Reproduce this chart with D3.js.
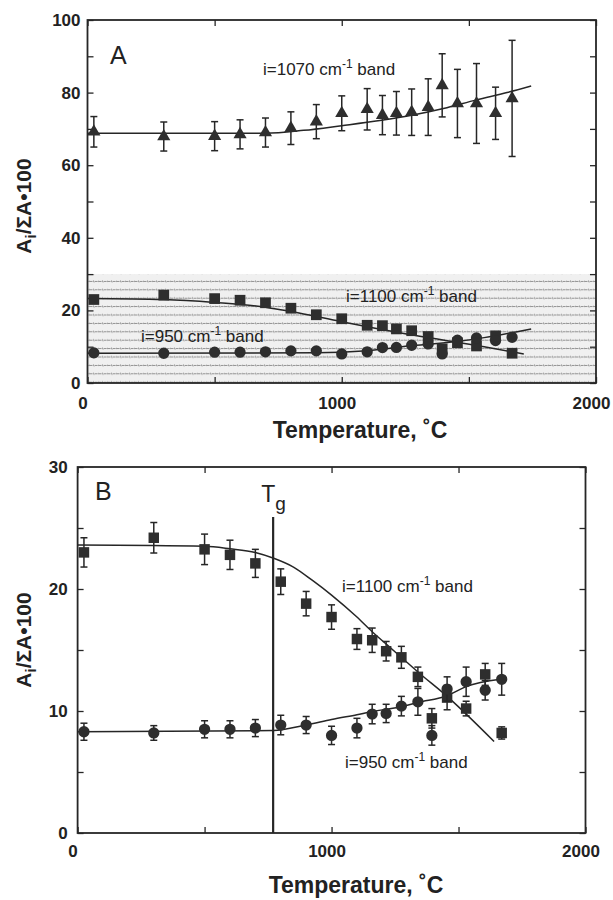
<!DOCTYPE html>
<html>
<head>
<meta charset="utf-8">
<script src="https://cdn.jsdelivr.net/npm/d3@7"></script>
<style>
  body { margin: 0; background: #fff; }
  svg { display: block; }
  text { font-family: "Liberation Sans", Arial, Helvetica, sans-serif; fill: #222; }
</style>
</head>
<body>
<script>
// temperatures (deg C) of the measured points
var tempC = [25, 300, 500, 600, 700, 800, 900, 1000, 1100, 1160, 1215, 1275, 1340, 1395, 1455, 1530, 1605, 1670];

// i = 1070 cm-1 band (triangles, panel A only)
var band1070 = [69.2, 67.9, 68.0, 68.5, 69.0, 70.2, 72.0, 74.3, 75.4, 73.8, 74.3, 74.6, 76.0, 82.0, 77.0, 77.0, 74.3, 78.4];
var err1070 = [4.2, 4.0, 4.0, 4.0, 4.0, 4.5, 4.7, 4.8, 5.7, 5.4, 6.0, 6.4, 7.8, 8.7, 9.4, 11.0, 7.2, 16.0];

// i = 1100 cm-1 band (squares)
var band1100 = [23.0, 24.2, 23.25, 22.8, 22.1, 20.6, 18.8, 17.7, 15.9, 15.8, 14.9, 14.4, 12.8, 9.4, 11.1, 10.2, 13.0, 8.2];
var err1100 = [1.2, 1.25, 1.25, 1.2, 1.15, 1.05, 1.0, 1.0, 0.85, 1.0, 0.8, 0.9, 0.8, 0.8, 1.0, 0.6, 0.9, 0.5];

// i = 950 cm-1 band (circles)
var band950 = [8.3, 8.2, 8.5, 8.5, 8.6, 8.85, 8.85, 8.0, 8.6, 9.75, 9.8, 10.4, 10.75, 8.0, 11.8, 12.4, 11.7, 12.6];
var err950 = [0.7, 0.6, 0.7, 0.7, 0.7, 0.8, 0.7, 0.75, 0.8, 0.8, 0.75, 0.8, 1.1, 0.8, 1.0, 1.2, 0.8, 1.3];

// fitted curves
var fitA1070T = [0, 700, 850, 1000, 1150, 1280, 1400, 1530, 1650, 1745];
var fitA1070V = [68.8, 68.8, 69.6, 70.9, 72.3, 73.8, 75.6, 78.0, 80.0, 81.8];
var fitA1100T = [0, 300, 500, 700, 800, 1000, 1280, 1560, 1716];
var fitA1100V = [23.3, 23.0, 22.2, 20.9, 19.7, 16.9, 13.2, 10.0, 8.0];
var fitA950T = [0, 900, 1100, 1280, 1460, 1560, 1745];
var fitA950V = [8.2, 8.3, 8.9, 10.3, 11.5, 12.5, 14.9];

var fitB1100T = [0, 500, 600, 700, 775, 850, 925, 1000, 1100, 1160, 1220, 1280, 1340, 1455, 1640];
var fitB1100V = [23.6, 23.5, 23.3, 23.0, 22.5, 21.8, 20.7, 19.5, 17.7, 16.5, 15.4, 14.3, 13.2, 11.2, 7.5];
var fitB950T = [0, 770, 900, 1000, 1100, 1160, 1275, 1340, 1455, 1530, 1665];
var fitB950V = [8.3, 8.4, 8.85, 9.3, 9.7, 9.95, 10.35, 10.7, 11.25, 12.0, 12.6];

// shaded band in panel A (y range) and glass transition temperature
var shadedBand = [0, 30];
var tgTemp = 770;

// tick values
var xTicks = [0, 500, 1000, 1500, 2000];
var xLabels = [0, 1000, 2000];
var yTicksA = [0, 10, 20, 30, 40, 50, 60, 70, 80, 90, 100];
var yLabelsA = [0, 20, 40, 60, 80, 100];
var yTicksB = [0, 5, 10, 15, 20, 25, 30];
var yLabelsB = [0, 10, 20, 30];

var W = 613, H = 900;
var ink = "#262626";

var svg = d3.select("body").append("svg")
  .attr("width", W)
  .attr("height", H);

// dotted texture for the shaded band
var defs = svg.append("defs");
var pat = defs.append("pattern")
  .attr("id", "dots")
  .attr("patternUnits", "userSpaceOnUse")
  .attr("width", 9)
  .attr("height", 8.4);
pat.append("rect").attr("width", 9).attr("height", 8.4).attr("fill", "#f0f0f0");
pat.append("path")
  .attr("d", "M0,4.2 L2.5,4.2 M3.2,3.4 L4.4,5 M5,4.2 L7.5,4.2 M8,3.6 L9,4.6")
  .attr("stroke", "#8c8c8c")
  .attr("stroke-width", 1)
  .attr("fill", "none");

function zipPts(t, v, e) {
  return t.map(function(d, i) { return {t: d, v: v[i], e: e ? e[i] : 0}; });
}

function drawPanel(p) {
  var x = d3.scaleLinear().domain([0, 2000]).range([p.left, p.right]);
  var y = d3.scaleLinear().domain([0, p.ymax]).range([p.bottom, p.top]);
  var g = svg.append("g");

  if (p.band) {
    g.append("rect")
      .attr("x", x(0))
      .attr("y", y(p.band[1]))
      .attr("width", x(2000) - x(0))
      .attr("height", y(p.band[0]) - y(p.band[1]))
      .attr("fill", "url(#dots)");
  }

  // axes: inward ticks on all four sides
  var fmtX = function(d) { return xLabels.indexOf(d) >= 0 ? d : ""; };
  var fmtY = function(d) { return p.yLabels.indexOf(d) >= 0 ? d : ""; };

  var bottomAx = g.append("g").attr("transform", "translate(0," + p.bottom + ")")
    .call(d3.axisBottom(x).tickValues(xTicks).tickSize(-6).tickPadding(p.xPad).tickFormat(fmtX));
  bottomAx.selectAll(".tick text").attr("dx", -5);

  var ax = [
    bottomAx,
    g.append("g").attr("transform", "translate(0," + p.top + ")")
      .call(d3.axisTop(x).tickValues(xTicks).tickSize(-6).tickFormat("")),
    g.append("g").attr("transform", "translate(" + p.left + ",0)")
      .call(d3.axisLeft(y).tickValues(p.yTicks).tickSize(-6).tickPadding(p.yPad).tickFormat(fmtY)),
    g.append("g").attr("transform", "translate(" + p.right + ",0)")
      .call(d3.axisRight(y).tickValues(p.yTicks).tickSize(-6).tickFormat(""))
  ];
  ax.forEach(function(a) {
    a.select(".domain").remove();
    a.selectAll(".tick line").attr("stroke", ink).attr("stroke-width", 1.3);
    a.selectAll(".tick text")
      .attr("fill", ink)
      .style("font-size", "17px")
      .style("font-weight", "bold")
      .style("font-family", "'Liberation Sans', Arial, sans-serif");
  });

  g.append("rect")
    .attr("x", p.left).attr("y", p.top)
    .attr("width", p.right - p.left).attr("height", p.bottom - p.top)
    .attr("fill", "none").attr("stroke", ink).attr("stroke-width", 1.8);

  // Tg marker
  if (p.tg) {
    g.append("line")
      .attr("x1", x(p.tg)).attr("x2", x(p.tg))
      .attr("y1", y(p.tgTop)).attr("y2", p.bottom)
      .attr("stroke", ink).attr("stroke-width", 2.2);
    var tg = g.append("text")
      .attr("x", x(p.tg) - 12).attr("y", 502)
      .style("font-size", "23px");
    tg.append("tspan").text("T");
    tg.append("tspan").attr("dy", 8).style("font-size", "19px").text("g");
  }

  // fitted lines
  var line = d3.line()
    .x(function(d) { return x(d.t); })
    .y(function(d) { return y(d.v); })
    .curve(d3.curveMonotoneX);
  p.fits.forEach(function(f) {
    g.append("path")
      .datum(zipPts(f[0], f[1]))
      .attr("d", line)
      .attr("fill", "none")
      .attr("stroke", ink)
      .attr("stroke-width", 1.5);
  });

  // data series
  p.series.forEach(function(s) {
    var pts = zipPts(tempC, s.v, s.e);
    if (s.e) {
      var eb = g.append("g").selectAll("g").data(pts).enter().append("g")
        .attr("stroke", ink).attr("stroke-width", 1.5);
      eb.append("line")
        .attr("x1", function(d) { return x(d.t); })
        .attr("x2", function(d) { return x(d.t); })
        .attr("y1", function(d) { return y(d.v - d.e); })
        .attr("y2", function(d) { return y(d.v + d.e); });
      [-1, 1].forEach(function(sg) {
        eb.append("line")
          .attr("x1", function(d) { return x(d.t) - 3.5; })
          .attr("x2", function(d) { return x(d.t) + 3.5; })
          .attr("y1", function(d) { return y(d.v + sg * d.e); })
          .attr("y2", function(d) { return y(d.v + sg * d.e); });
      });
    }
    g.append("g").selectAll("path").data(pts).enter().append("path")
      .attr("transform", function(d) { return "translate(" + x(d.t) + "," + y(d.v) + ")"; })
      .attr("d", d3.symbol().type(s.shape).size(s.size))
      .attr("fill", "#2e2e2e");
  });

  // band labels
  p.labels.forEach(function(l) {
    var t = g.append("text").attr("x", l.x).attr("y", l.y).style("font-size", "17px");
    t.append("tspan").text("i=" + l.band + " cm");
    t.append("tspan").attr("dy", -7).style("font-size", "12px").text("-1");
    t.append("tspan").attr("dy", 7).text(" band");
  });

  // panel letter
  g.append("text").attr("x", p.letterX).attr("y", p.letterY)
    .style("font-size", "25px").text(p.letter);

  // axis titles
  g.append("text")
    .attr("x", p.xTitleX).attr("y", p.xTitleY)
    .attr("text-anchor", "middle")
    .style("font-size", "23px").style("font-weight", "bold")
    .text("Temperature, \u02DAC");

  var yt = g.append("text")
    .attr("transform", "translate(31," + p.yTitleY + ") rotate(-90)")
    .attr("text-anchor", "middle")
    .style("font-size", "21px").style("font-weight", "bold");
  yt.append("tspan").text("A");
  yt.append("tspan").attr("dy", 5).style("font-size", "15px").text("i");
  yt.append("tspan").attr("dy", -5).text("/\u03A3A\u2022100");
}

drawPanel({
  left: 87.5, right: 596, top: 20, bottom: 383, ymax: 100,
  yTicks: yTicksA, yLabels: yLabelsA, xPad: 14, yPad: 7,
  band: shadedBand,
  fits: [[fitA1070T, fitA1070V], [fitA1100T, fitA1100V], [fitA950T, fitA950V]],
  series: [
    {v: band1070, e: err1070, shape: d3.symbolTriangle, size: 75},
    {v: band1100, e: null, shape: d3.symbolSquare, size: 115},
    {v: band950, e: null, shape: d3.symbolCircle, size: 100}
  ],
  labels: [
    {band: "1070", x: 263, y: 75},
    {band: "1100", x: 346, y: 302},
    {band: "950", x: 141, y: 342}
  ],
  letter: "A", letterX: 110, letterY: 64,
  xTitleX: 360, xTitleY: 438, yTitleY: 206
});

drawPanel({
  left: 77.6, right: 585.5, top: 467, bottom: 833, ymax: 30,
  yTicks: yTicksB, yLabels: yLabelsB, xPad: 12, yPad: 10,
  tg: tgTemp, tgTop: 25.9,
  fits: [[fitB1100T, fitB1100V], [fitB950T, fitB950V]],
  series: [
    {v: band1100, e: err1100, shape: d3.symbolSquare, size: 110},
    {v: band950, e: err950, shape: d3.symbolCircle, size: 100}
  ],
  labels: [
    {band: "1100", x: 342, y: 592},
    {band: "950", x: 345, y: 768}
  ],
  letter: "B", letterX: 95, letterY: 500,
  xTitleX: 356, xTitleY: 893, yTitleY: 640
});
</script>
</body>
</html>
